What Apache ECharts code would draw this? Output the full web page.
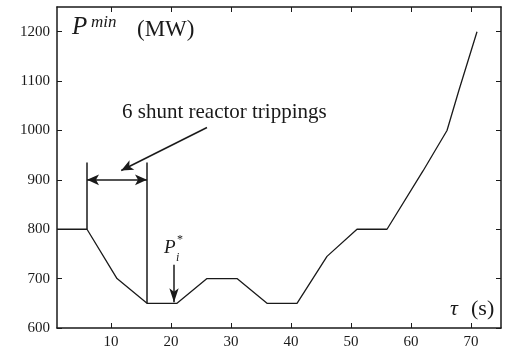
<!DOCTYPE html>
<html>
<head>
<meta charset="utf-8">
<script src="https://cdn.jsdelivr.net/npm/echarts@6/dist/echarts.min.js"></script>
<style>
  html, body { margin: 0; padding: 0; background: #fff; }
  #main { width: 505px; height: 356px; }
</style>
</head>
<body>
<div id="main"></div>
<script>
// time (s) and minimum power (MW)
const tau = [1, 6, 11, 16, 21, 26, 31, 36, 41, 46, 51, 56, 62, 66, 68, 71];
const pmin = [800, 800, 700, 650, 650, 700, 700, 650, 650, 745, 800, 800, 918, 1000, 1082, 1200];
const xTicks = [10, 20, 30, 40, 50, 60, 70];
const yTicks = [600, 700, 800, 900, 1000, 1100, 1200];

const ink = '#1a1a1a';
const serif = 'Liberation Serif';

const myChart = echarts.init(document.getElementById('main'));

const boxAxis = (pos, ticks, showLabel) => ({
    position: pos,
    axisLine: { show: true, onZero: false, lineStyle: { color: ink, width: 1.5 } },
    axisTick: { show: true, inside: true, length: 5, customValues: ticks, lineStyle: { color: ink, width: 1 } },
    axisLabel: {
        show: showLabel,
        customValues: ticks,
        formatter: (v) => String(v),
        color: ink,
        fontFamily: serif,
        fontSize: 15,
        margin: 7
    },
    splitLine: { show: false }
});

const option = {
    backgroundColor: '#fff',
    animation: false,
    grid: { left: 57, right: 4, top: 7, bottom: 28 },
    xAxis: [
        Object.assign({ type: 'value', min: 1, max: 75 }, boxAxis('bottom', xTicks, true)),
        Object.assign({ type: 'value', min: 1, max: 75 }, boxAxis('top', xTicks, false))
    ],
    yAxis: [
        Object.assign({ type: 'value', min: 600, max: 1250 }, boxAxis('left', yTicks, true)),
        Object.assign({ type: 'value', min: 600, max: 1250 }, boxAxis('right', yTicks, false))
    ],
    series: [
        {
            type: 'line',
            data: tau.map((t, i) => [t, pmin[i]]),
            symbol: 'none',
            lineStyle: { color: ink, width: 1.3 },
            markLine: {
                silent: true,
                symbol: ['none', 'none'],
                label: { show: false },
                lineStyle: { color: ink, width: 1.5, type: 'solid' },
                data: [
                    // vertical bounds of the tripping interval
                    [{ coord: [6, 935] }, { coord: [6, 800] }],
                    [{ coord: [16, 935] }, { coord: [16, 650] }],
                    // double arrow
                    [{ coord: [6, 900], symbol: 'arrow', symbolSize: [8, 12] }, { coord: [16, 900], symbol: 'arrow', symbolSize: [8, 12] }],
                    // arrow from the text
                    [{ coord: [26, 1006] }, { coord: [11.7, 919], symbol: 'arrow', symbolSize: [8, 12] }],
                    // arrow to P_i*
                    [{ coord: [20.5, 728] }, { coord: [20.5, 652], symbol: 'arrow', symbolSize: [7, 14] }]
                ]
            }
        }
    ],
    graphic: [
        { type: 'text', left: 72, top: 15, style: { text: 'P', font: 'italic 25px ' + serif, fill: ink } },
        { type: 'text', left: 91, top: 14, style: { text: 'min', font: 'italic 17px ' + serif, fill: ink } },
        { type: 'text', left: 137, top: 18, style: { text: '(MW)', font: '23px ' + serif, fill: ink } },
        { type: 'text', left: 122, top: 102, style: { text: '6 shunt reactor trippings', font: '21px ' + serif, fill: ink } },
        { type: 'text', left: 164, top: 238, style: { text: 'P', font: 'italic 19px ' + serif, fill: ink } },
        { type: 'text', left: 177, top: 234, style: { text: '*', font: '12px ' + serif, fill: ink } },
        { type: 'text', left: 176, top: 252, style: { text: 'i', font: 'italic 12px ' + serif, fill: ink } },
        { type: 'text', left: 450, top: 298, style: { text: 'τ', font: 'italic 22px ' + serif, fill: ink } },
        { type: 'text', left: 471, top: 298, style: { text: '(s)', font: '22px ' + serif, fill: ink } }
    ]
};

option && myChart.setOption(option);
</script>
</body>
</html>
